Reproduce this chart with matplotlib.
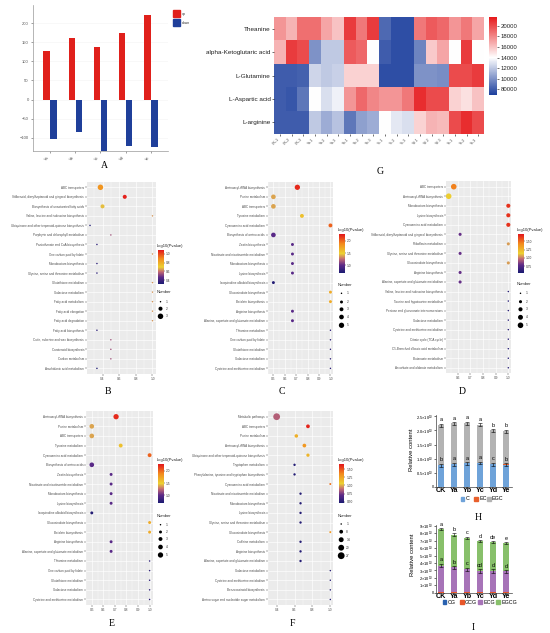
"""
plot.py
Multi-panel figure: DEG counts, amino acid heatmap, KEGG enrichment bubbles, catechin contents.
"""
import numpy as np
import matplotlib
matplotlib.use('Agg')
import matplotlib.pyplot as plt
from matplotlib.colors import LinearSegmentedColormap, Normalize
from matplotlib.cm import ScalarMappable
from matplotlib.patches import Rectangle

W, H = 550, 633

# ---- A: number of up / down regulated
groups_A = ['Ya', 'Yb', 'Yc', 'Yd', 'Ye']
up_A = [127, 162, 138, 174, 220]
down_A = [-102, -85, -134, -122, -124]

# ---- G: heatmap of amino acids
heat_rows = ['Theanine', 'alpha-Ketoglutaric acid', 'L-Glutamine', 'L-Aspartic acid', 'L-arginine']
heat_cols = ['CK-1', 'CK-2', 'CK-3', 'Ya-1', 'Ya-2', 'Ya-3', 'Yb-1', 'Yb-2', 'Yb-3',
             'Yc-1', 'Yc-2', 'Yc-3', 'Yd-1', 'Yd-2', 'Yd-3', 'Ye-1', 'Ye-2', 'Ye-3']
theanine = [17500, 16500, 18800, 18800, 17000, 16000, 20500, 18500, 20500,
            8500, 7500, 7500, 18500, 19500, 19000, 17500, 18500, 17000]
akg = [16500, 20500, 20000, 10000, 12000, 12000, 19500, 19000, 14000,
       8000, 7500, 7500, 9500, 15800, 17000, 14000, 20500, 14000]
gln = [8000, 8000, 8200, 12500, 12000, 12300, 15500, 15500, 15500,
       7500, 7500, 7500, 10000, 10000, 9800, 20000, 20000, 20500]
asp = [8000, 7800, 9000, 14000, 12800, 13500, 17500, 19000, 18000,
       17500, 17500, 18500, 21000, 20000, 20000, 15500, 15000, 16000]
arg = [8000, 8000, 8000, 12000, 11000, 11800, 9000, 10500, 11000,
       14000, 13200, 12800, 15500, 16500, 16300, 20000, 21000, 20000]
heat_ticks = [20000, 18000, 16000, 14000, 12000, 10000, 8000]
heat_ticklabels = ['20000', '18000', '16000', '14000', '12000', '10000', '80000']

# ---- B: KEGG enrichment
terms_B = ['ABC transporters', 'Stilbenoid, diarylheptanoid and gingerol biosynthesis',
           'Biosynthesis of unsaturated fatty acids', 'Valine, leucine and isoleucine biosynthesis',
           'Ubiquinone and other terpenoid-quinone biosynthesis', 'Porphyrin and chlorophyll metabolism',
           'Pantothenate and CoA biosynthesis', 'One carbon pool by folate', 'Monobactam biosynthesis',
           'Glycine, serine and threonine metabolism', 'Glutathione metabolism', 'Galactose metabolism',
           'Fatty acid metabolism', 'Fatty acid elongation', 'Fatty acid degradation',
           'Fatty acid biosynthesis', 'Cutin, suberine and wax biosynthesis', 'Carotenoid biosynthesis',
           'Carbon metabolism', 'Arachidonic acid metabolism']
rich_B = [0.375, 0.667, 0.40, 1.0, 0.25, 0.5, 0.333, 1.0, 0.333, 0.333,
          1.0, 1.0, 1.0, 1.0, 1.0, 0.333, 0.5, 0.5, 0.5, 0.333]
logp_B = [0.86, 1.06, 0.68, 0.64, 0.33, 0.55, 0.36, 0.64, 0.36, 0.36,
          0.64, 0.64, 0.64, 0.64, 0.64, 0.36, 0.55, 0.55, 0.55, 0.33]
num_B = [3, 2, 2, 1, 1, 1, 1, 1, 1, 1, 1, 1, 1, 1, 1, 1, 1, 1, 1, 1]

# ---- C (and E, same result)
terms_C = ['Aminoacyl-tRNA biosynthesis', 'Purine metabolism', 'ABC transporters', 'Tyrosine metabolism',
           'Cyanoamino acid metabolism', 'Biosynthesis of amino acids', 'Zeatin biosynthesis',
           'Nicotinate and nicotinamide metabolism', 'Monobactam biosynthesis', 'Lysine biosynthesis',
           'Isoquinoline alkaloid biosynthesis', 'Glucosinolate biosynthesis', 'Betalain biosynthesis',
           'Arginine biosynthesis', 'Alanine, aspartate and glutamate metabolism', 'Thiamine metabolism',
           'One carbon pool by folate', 'Glutathione metabolism', 'Galactose metabolism',
           'Cysteine and methionine metabolism']
rich_C = [0.71, 0.5, 0.5, 0.75, 1.0, 0.5, 0.667, 0.667, 0.667, 0.667,
          0.5, 1.0, 1.0, 0.667, 0.667, 1.0, 1.0, 1.0, 1.0, 1.0]
logp_C = [2.22, 1.38, 1.38, 1.58, 2.02, 0.98, 0.98, 0.98, 0.98, 0.98,
          0.72, 1.70, 1.70, 0.98, 0.98, 0.76, 0.76, 0.76, 0.76, 0.76]
num_C = [5, 4, 4, 3, 3, 4, 2, 2, 2, 2, 2, 2, 2, 2, 2, 1, 1, 1, 1, 1]

# ---- D
terms_D = ['ABC transporters', 'Aminoacyl-tRNA biosynthesis', 'Monobactam biosynthesis', 'Lysine biosynthesis',
           'Cyanoamino acid metabolism', 'Stilbenoid, diarylheptanoid and gingerol biosynthesis',
           'Riboflavin metabolism', 'Glycine, serine and threonine metabolism', 'Glucosinolate biosynthesis',
           'Arginine biosynthesis', 'Alanine, aspartate and glutamate metabolism',
           'Valine, leucine and isoleucine biosynthesis', 'Taurine and hypotaurine metabolism',
           'Pentose and glucuronate interconversions', 'Galactose metabolism',
           'Cysteine and methionine metabolism', 'Citrate cycle (TCA cycle)',
           'C5-Branched dibasic acid metabolism', 'Butanoate metabolism', 'Ascorbate and aldarate metabolism']
rich_D = [0.57, 0.53, 1.0, 1.0, 1.0, 0.62, 1.0, 0.62, 1.0, 0.62, 0.62,
          1.0, 1.0, 1.0, 1.0, 1.0, 1.0, 1.0, 1.0, 1.0]
logp_D = [1.45, 1.15, 1.65, 1.65, 1.65, 0.80, 1.05, 0.80, 1.05, 0.80, 0.80,
          0.60, 0.60, 0.60, 0.60, 0.60, 0.60, 0.60, 0.60, 0.60]
num_D = [5, 5, 3, 3, 3, 2, 2, 2, 2, 2, 2, 1, 1, 1, 1, 1, 1, 1, 1, 1]

# ---- F
terms_F = ['Metabolic pathways', 'ABC transporters', 'Purine metabolism', 'Aminoacyl-tRNA biosynthesis',
           'Ubiquinone and other terpenoid-quinone biosynthesis', 'Tryptophan metabolism',
           'Phenylalanine, tyrosine and tryptophan biosynthesis', 'Cyanoamino acid metabolism',
           'Nicotinate and nicotinamide metabolism', 'Monobactam biosynthesis', 'Lysine biosynthesis',
           'Glycine, serine and threonine metabolism', 'Glucosinolate biosynthesis', 'Caffeine metabolism',
           'Arginine biosynthesis', 'Alanine, aspartate and glutamate metabolism', 'Galactose metabolism',
           'Cysteine and methionine metabolism', 'Benzoxazinoid biosynthesis',
           'Amino sugar and nucleotide sugar metabolism']
rich_F = [0.4, 0.75, 0.62, 0.71, 0.75, 0.6, 0.6, 1.0, 0.667, 0.667, 0.667, 0.667,
          1.0, 0.667, 0.667, 0.667, 1.0, 1.0, 1.0, 1.0]
logp_F = [0.86, 1.62, 1.20, 1.30, 1.18, 0.50, 0.50, 1.42, 0.50, 0.50, 0.50, 0.50,
          1.30, 0.50, 0.50, 0.50, 0.50, 0.50, 0.50, 0.50]
num_F = [27, 8, 7, 8, 6, 3, 3, 2, 3, 3, 3, 3, 2, 3, 3, 3, 1, 1, 1, 1]

# ---- H: catechins C / EC / EGC
samples = ['CK', 'Ya', 'Yb', 'Yc', 'Yd', 'Ye']
c_H = [0.76e10, 0.80e10, 0.83e10, 0.84e10, 0.80e10, 0.78e10]
ec_H = [0.01e10, 0.01e10, 0.01e10, 0.01e10, 0.01e10, 0.01e10]
total_H = [2.18e10, 2.25e10, 2.26e10, 2.20e10, 2.00e10, 1.97e10]
err_c_H = [0.06e10, 0.05e10, 0.05e10, 0.05e10, 0.05e10, 0.06e10]
err_t_H = [0.06e10, 0.05e10, 0.05e10, 0.05e10, 0.05e10, 0.06e10]
let_c_H = ['b', 'a', 'a', 'a', 'c', 'b']
let_t_H = ['a', 'a', 'a', 'a', 'b', 'b']

# ---- I: gallated catechins CG / GCG / ECG / EGCG
cg_I = [0.02e10, 0.02e10, 0.02e10, 0.02e10, 0.02e10, 0.02e10]
gcg_I = [0.02e10, 0.02e10, 0.02e10, 0.02e10, 0.02e10, 0.02e10]
ecg_I = [3.62e10, 3.36e10, 3.13e10, 2.90e10, 2.90e10, 2.82e10]
total_I = [8.55e10, 7.85e10, 7.40e10, 6.95e10, 6.80e10, 6.70e10]
err_e_I = [0.25e10, 0.22e10, 0.2e10, 0.22e10, 0.22e10, 0.22e10]
err_t_I = [0.15e10, 0.15e10, 0.15e10, 0.15e10, 0.15e10, 0.15e10]
let_e_I = ['a', 'b', 'c', 'cd', 'd', 'd']
let_t_I = ['a', 'b', 'c', 'd', 'de', 'e']

plt.rcParams['font.family'] = ['Liberation Sans', 'DejaVu Sans']
plt.rcParams['mathtext.fontset'] = 'custom'
plt.rcParams['mathtext.rm'] = 'Liberation Sans'
plt.rcParams['mathtext.it'] = 'Liberation Sans:italic'

fig = plt.figure(figsize=(W / 100, H / 100), dpi=100)


def add_ax(x0, y0, x1, y1, **kw):
    """axes from pixel box (top-left origin)"""
    return fig.add_axes([x0 / W, 1 - y1 / H, (x1 - x0) / W, (y1 - y0) / H], **kw)


ov = fig.add_axes([0, 0, 1, 1], zorder=10)
ov.set_xlim(0, W)
ov.set_ylim(H, 0)
ov.axis('off')

kegg = LinearSegmentedColormap.from_list('kegg', [(0.0, '#1b1b72'), (0.2, '#5d2a88'), (0.36, '#c46a74'),
                                                  (0.5, '#ecd132'), (0.75, '#f28a1d'), (1.0, '#e2161c')])


def dot_size(n, lo, hi, dmin, dmax):
    n = np.asarray(n, float)
    frac = (n - lo) / (hi - lo) if hi > lo else np.zeros_like(n)
    d = np.sqrt(dmin ** 2 + frac * (dmax ** 2 - dmin ** 2))
    return (d * 0.72) ** 2


# ================= A =================
ax = add_ax(33, 5, 168, 151)
xa = np.arange(len(groups_A))
ax.bar(xa - 0.14, up_A, 0.26, color='#e0201b', zorder=3)
ax.bar(xa + 0.14, down_A, 0.26, color='#1f3f9a', zorder=3)
ax.set_xlim(-0.68, 4.68)
ax.set_ylim(-134, 247)
ax.set_yticks([-100, -50, 0, 50, 100, 150, 200])
ax.set_xticks(xa)
ax.set_xticklabels(groups_A, rotation=45, ha='right')
ax.tick_params(labelsize=3, colors='#555555', length=1.5, width=0.4, pad=1.5)
ax.grid(axis='y', color='#f3f3f3', lw=0.4, zorder=0)
for s in ['top', 'right']:
    ax.spines[s].set_visible(False)
for s in ['left', 'bottom']:
    ax.spines[s].set_color('#999999')
    ax.spines[s].set_linewidth(0.5)
ov.add_patch(Rectangle((173, 10), 7, 7, color='#e0201b'))
ov.add_patch(Rectangle((173, 18.5), 7, 7, color='#1f3f9a'))
ov.text(182, 14, 'up', fontsize=2.5, va='center', color='#333333')
ov.text(182, 22.5, 'down', fontsize=2.5, va='center', color='#333333')

# ================= G =================
axg = add_ax(274, 17, 484, 134)
heat = np.array([theanine, akg, gln, asp, arg])
cmap_g = LinearSegmentedColormap.from_list('bwr2', [(0, '#1c3f9d'), (0.48, '#ffffff'), (1, '#e6191b')])
norm_g = Normalize(6900, 21700)
axg.imshow(heat, cmap=cmap_g, norm=norm_g, aspect='auto', interpolation='nearest')
axg.set_yticks(range(len(heat_rows)))
axg.set_yticklabels(heat_rows, fontsize=4.6, color='#222222')
axg.set_xticks(range(len(heat_cols)))
axg.set_xticklabels(heat_cols, rotation=45, ha='right', fontsize=2.6, color='#444444')
axg.tick_params(length=1.5, width=0.4, pad=1)
for s in axg.spines.values():
    s.set_visible(False)
cax = add_ax(489, 17, 497, 95)
cb = fig.colorbar(ScalarMappable(norm=norm_g, cmap=cmap_g), cax=cax, ticks=heat_ticks)
cb.outline.set_visible(False)
cb.ax.set_yticklabels(heat_ticklabels, fontsize=4.3, color='#222222')
cb.ax.tick_params(length=1.5, width=0.4, pad=1)


# ================= bubble panels =================
def bubble(terms, rich, logp, num, box, xlim, xticks, vlim, cbox, cticks, cfmt, levels, leg_y, dmax):
    x0, x1, ytop, step = box
    n = len(terms)
    ax = add_ax(x0, ytop - 0.6 * step, x1, ytop + (n - 0.4) * step)
    ax.set_facecolor('#ebebeb')
    ypos = np.arange(n)
    norm = Normalize(*vlim)
    lo, hi = min(levels), max(levels)
    ax.scatter(rich, ypos, s=dot_size(num, lo, hi, 1.5, dmax), c=logp, cmap=kegg, norm=norm,
               linewidths=0, zorder=3)
    ax.set_xlim(xlim)
    ax.set_ylim(n - 0.4, -0.6)
    ax.set_yticks(ypos)
    ax.set_yticklabels(terms, fontsize=2.2, color='#4d4d4d')
    ax.set_xticks(xticks)
    ax.set_xticklabels(['%.1f' % t for t in xticks], fontsize=2.3, color='#4d4d4d')
    step_x = xticks[1] - xticks[0]
    ax.set_xticks(np.arange(xticks[0] - step_x / 2, xlim[1], step_x), minor=True)
    ax.grid(which='major', color='white', lw=0.45)
    ax.grid(which='minor', axis='x', color='white', lw=0.25)
    ax.set_axisbelow(True)
    ax.tick_params(length=1.2, width=0.3, color='#333333', pad=0.8)
    ax.tick_params(which='minor', length=0)
    for s in ax.spines.values():
        s.set_visible(False)
    cx0, cy0, cx1, cy1 = cbox
    cax = add_ax(cx0, cy0, cx1, cy1)
    cb = fig.colorbar(ScalarMappable(norm=norm, cmap=kegg), cax=cax, ticks=cticks)
    cb.outline.set_visible(False)
    cb.ax.set_yticklabels([cfmt % t for t in cticks], fontsize=2.3, color='#333333')
    cb.ax.tick_params(length=1.0, width=0.3, pad=0.8)
    ov.text(cx0 - 1, cy0 - 4.5, '-log10(Pvalue)', fontsize=3, va='center', color='#222222')
    ty, ys = leg_y
    ov.text(cx0 - 1, ty, 'Number', fontsize=3, va='center', color='#222222')
    ov.scatter([cx0 + 2.5] * len(levels), ys, s=dot_size(levels, lo, hi, 1.5, dmax), c='black', linewidths=0)
    for lv, yy in zip(levels, ys):
        ov.text(cx0 + 7.5, yy, str(lv), fontsize=2.3, va='center', color='#333333')


bubble(terms_B, rich_B, logp_B, num_B, (86.9, 155.6, 187.3, 9.53), (0.2125, 1.0375), [0.4, 0.6, 0.8, 1.0],
       (0.32, 1.08), (158, 250, 163.5, 284), [0.4, 0.6, 0.8, 1.0], '%.1f', [1, 2, 3],
       (292.3, [301.7, 308.7, 316.3]), 5.5)
bubble(terms_C, rich_C, logp_C, num_C, (267.7, 333.3, 187.3, 9.53), (0.475, 1.025),
       [0.5, 0.6, 0.7, 0.8, 0.9, 1.0], (0.67, 2.29), (339, 234, 344.5, 273), [1.0, 1.5, 2.0], '%.1f',
       [1, 2, 3, 4, 5], (285, [293.3, 302, 309.3, 317, 325.3]), 5.3)
bubble(terms_D, rich_D, logp_D, num_D, (445.7, 511.3, 186.7, 9.53), (0.5065, 1.0235),
       [0.6, 0.7, 0.8, 0.9, 1.0], (0.55, 1.72), (518, 234, 523.5, 272.7), [0.75, 1.0, 1.25, 1.5], '%.2f',
       [1, 2, 3, 4, 5], (284.3, [293.3, 301.7, 309.3, 317.3, 325.3]), 5.6)
bubble(terms_C, rich_C, logp_C, num_C, (86, 152.5, 416.7, 9.62), (0.475, 1.025),
       [0.5, 0.6, 0.7, 0.8, 0.9, 1.0], (0.67, 2.29), (158, 464, 163.5, 503), [1.0, 1.5, 2.0], '%.1f',
       [1, 2, 3, 4, 5], (516, [524.7, 532, 539, 547, 555]), 5.3)
bubble(terms_F, rich_F, logp_F, num_F, (267.7, 333, 416.7, 9.62), (0.37, 1.03), [0.4, 0.6, 0.8, 1.0],
       (0.46, 1.66), (338.7, 464, 344.2, 503), [0.5, 0.75, 1.0, 1.25, 1.5], '%.2f',
       [1, 8, 14, 20, 27], (515.7, [524, 531.7, 539.7, 547.7, 555.7]), 6.8)


# ================= H / I =================
def stacked(box, layers, colors, total, err_mid, mid_top, err_top, let_mid, let_top, ylim, yticks, ylabels):
    ax = add_ax(*box)
    x = np.arange(len(samples))
    bottom = np.zeros(len(samples))
    for vals, col in zip(layers, colors):
        ax.bar(x, vals, 0.5, bottom=bottom, color=col, zorder=2)
        bottom = bottom + np.asarray(vals)
    ax.errorbar(x, mid_top, yerr=err_mid, fmt='none', ecolor='black', elinewidth=0.4, capsize=1.2,
                capthick=0.4, zorder=3)
    ax.errorbar(x, total, yerr=err_top, fmt='none', ecolor='black', elinewidth=0.4, capsize=1.2,
                capthick=0.4, zorder=3)
    off = ylim[1] * 0.02
    for i in range(len(samples)):
        ax.text(x[i], mid_top[i] + err_mid[i] + off, let_mid[i], ha='center', va='bottom', fontsize=4.0)
        ax.text(x[i], total[i] + err_top[i] + off, let_top[i], ha='center', va='bottom', fontsize=4.0)
    ax.set_xlim(-0.4, 5.45)
    ax.set_ylim(*ylim)
    ax.set_yticks(yticks)
    ax.set_yticklabels(ylabels, fontsize=2.9)
    ax.set_xticks(x)
    ax.set_xticklabels(samples, fontsize=5.2, fontweight='bold')
    ax.tick_params(axis='x', length=0, pad=0.5)
    ax.tick_params(axis='y', length=1.2, width=0.4, pad=0.6)
    for s in ['top', 'right']:
        ax.spines[s].set_visible(False)
    for s in ['left', 'bottom']:
        ax.spines[s].set_linewidth(0.5)
        ax.spines[s].set_color('#404040')
    return ax


egc_H = np.array(total_H) - np.array(c_H) - np.array(ec_H)
stacked((436, 415, 512, 486.7), [c_H, ec_H, egc_H], ['#6fa3d9', '#e8602c', '#b3b3b3'], total_H,
        err_c_H, c_H, err_t_H, let_c_H, let_t_H, (0, 2.55e10), [0, 0.5e10, 1.0e10, 1.5e10, 2.0e10, 2.5e10],
        ['0', '0.5×10$^{10}$', '1.0×10$^{10}$', '1.5×10$^{10}$', '2.0×10$^{10}$', '2.5×10$^{10}$'])
ecg_top = np.array(cg_I) + np.array(gcg_I) + np.array(ecg_I)
egcg_I = np.array(total_I) - ecg_top
stacked((436, 524.5, 512, 592.7), [cg_I, gcg_I, ecg_I, egcg_I], ['#2a62b0', '#e8572a', '#a774b8', '#88c06b'],
        total_I, err_e_I, ecg_top, err_t_I, let_e_I, let_t_I, (0, 9.2e10), [k * 1e10 for k in range(10)],
        ['0'] + ['%d×10$^{10}$' % k for k in range(1, 10)])
ov.text(411.5, 450, 'Relative content', rotation=90, fontsize=4.2, ha='center', va='center')
ov.text(413, 555, 'Relative content', rotation=90, fontsize=4.2, ha='center', va='center')

for lx, col, name in [(460.7, '#6fa3d9', 'C'), (474, '#e8602c', 'EC'), (487, '#b3b3b3', 'EGC')]:
    ov.add_patch(Rectangle((lx, 497), 3.6, 3.6, color=col))
    ov.text(lx + 5, 499, name, fontsize=3.9, va='center')
for lx, col, name in [(442.7, '#2a62b0', 'CG'), (460, '#e8572a', 'GCG'), (478, '#a774b8', 'ECG'),
                      (496, '#88c06b', 'EGCG')]:
    ov.add_patch(Rectangle((lx, 600), 3.6, 3.6, color=col))
    ov.text(lx + 5, 602, name, fontsize=3.9, va='center')

# ================= panel letters =================
for lab, lx, ly in [('A', 104, 166), ('G', 380, 172), ('B', 108, 392), ('C', 282, 391), ('D', 462, 392),
                    ('E', 112, 624), ('F', 292, 624), ('H', 478, 517), ('I', 473, 628)]:
    ov.text(lx, ly, lab, fontsize=7, ha='center', va='center', family=['Liberation Serif', 'DejaVu Serif'])

fig.savefig('out.png', dpi=100)
